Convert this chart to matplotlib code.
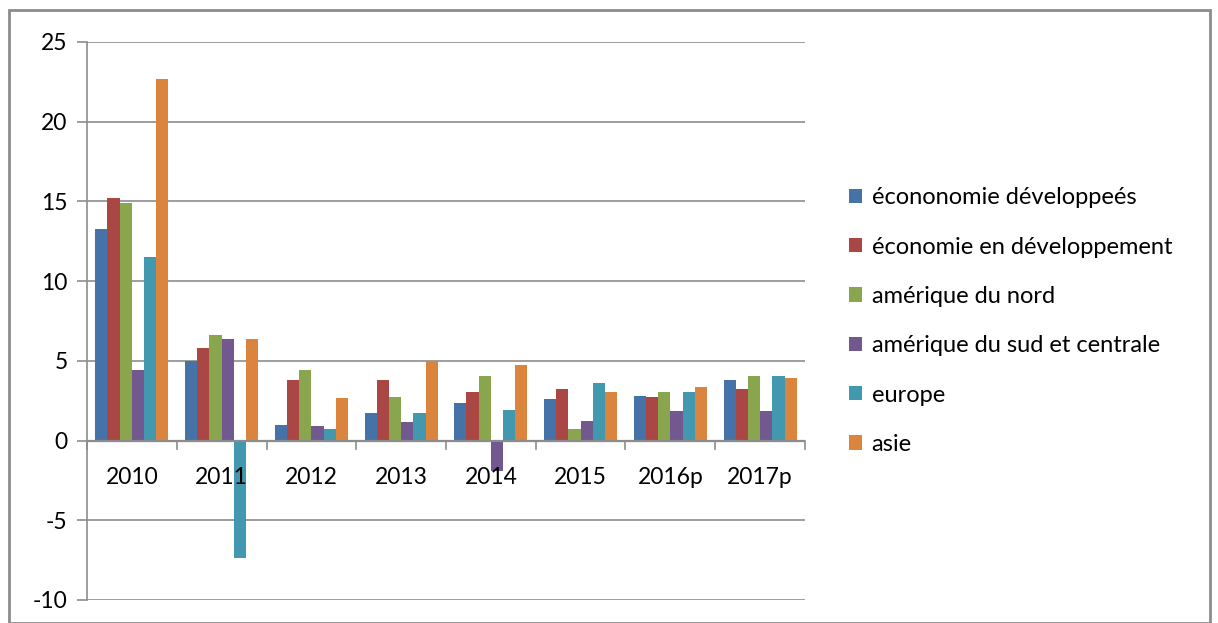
import numpy as np
import matplotlib.pyplot as plt
from matplotlib.patches import Rectangle

plt.rcParams['font.family'] = ['Lato', 'DejaVu Sans']
plt.rcParams['axes.unicode_minus'] = False

annees = ['2010', '2011', '2012', '2013', '2014', '2015', '2016p', '2017p']
eco_dev = [13.3, 5.0, 1.0, 1.7, 2.35, 2.6, 2.8, 3.8]
eco_en_dev = [15.2, 5.8, 3.8, 3.8, 3.05, 3.25, 2.75, 3.25]
amerique_nord = [14.9, 6.6, 4.45, 2.75, 4.05, 0.7, 3.05, 4.05]
amerique_sud = [4.4, 6.35, 0.9, 1.15, -1.9, 1.25, 1.85, 1.85]
europe = [11.5, -7.35, 0.7, 1.7, 1.9, 3.6, 3.05, 4.05]
asie = [22.7, 6.35, 2.65, 5.0, 4.75, 3.05, 3.35, 3.95]

series = [eco_dev, eco_en_dev, amerique_nord, amerique_sud, europe, asie]
noms = ['écononomie développeés', 'économie en développement', 'amérique du nord',
        'amérique du sud et centrale', 'europe', 'asie']
couleurs = ['#4572A7', '#AA4643', '#89A54E', '#71588F', '#4198AF', '#DB843D']

fig = plt.figure(figsize=(12.18, 6.23), dpi=100)
ax = fig.add_axes([87/1218, 1-600/623, (805-87)/1218, (600-42)/623])

x = np.arange(len(annees)) + 0.5
w = 0.136
for i, s in enumerate(series):
    ax.bar(x + (i - 2.5)*w, s, w, color=couleurs[i], label=noms[i], zorder=3)

ax.set_xlim(0, 8)
ax.set_ylim(-10, 25)
ax.set_yticks(np.arange(-10, 30, 5))
ax.grid(axis='y', color='#8c8c8c', linewidth=1.2, zorder=0)
ax.set_xticks([])
for sp in ['top', 'right', 'bottom']:
    ax.spines[sp].set_visible(False)
ax.spines['left'].set_color('#8c8c8c')
ax.spines['left'].set_linewidth(1.2)
ax.tick_params(axis='y', length=7, color='#8c8c8c', width=1.2, labelsize=16.5, pad=7)

# axe des categories sur zero
ax.axhline(0, color='#8c8c8c', linewidth=1.6, zorder=4)
for k in range(9):
    ax.plot([k, k], [0, -0.5], color='#8c8c8c', linewidth=1.2, clip_on=False, zorder=4)
for xi, lab in zip(x, annees):
    ax.text(xi, -2.3, lab, ha='center', va='center', fontsize=16.5, zorder=5)

ax.legend(loc='center left', bbox_to_anchor=(828/718 - 87/718, 0.5), frameon=False,
          fontsize=17, handlelength=0.55, handleheight=0.55, handletextpad=0.4,
          labelspacing=1.2)

fig.patches.append(Rectangle((9/1218, 0), 1201/1218, 1-10/623, transform=fig.transFigure,
                             fill=False, edgecolor='#8c8c8c', linewidth=2))

plt.savefig('out.png', dpi=100)
